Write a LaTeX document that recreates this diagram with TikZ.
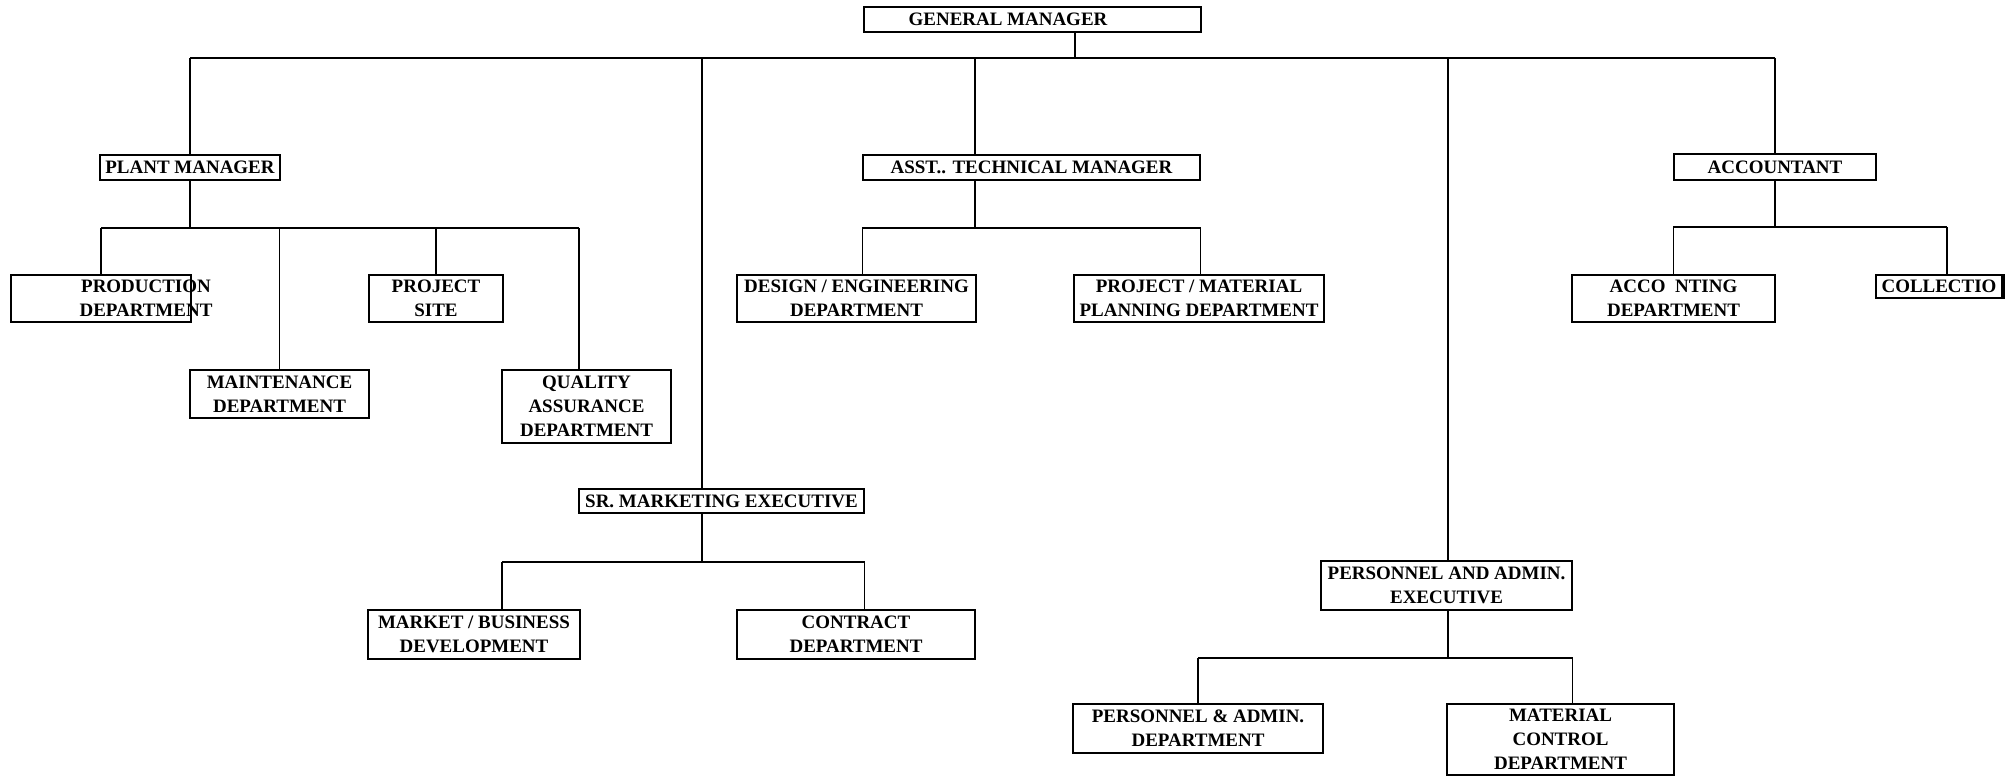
\documentclass[tikz,border=0pt]{standalone}
\usepackage{fontspec}
\setmainfont{Liberation Serif}
\usepackage{tikz}

\begin{document}
\begin{tikzpicture}[x=0.02cm, y=-0.02cm,
  post/.style={draw=black, line width=0.8pt, inner sep=0pt, align=center, font=\bfseries\fontsize{10.8}{13.6}\selectfont},
  tag/.style={inner sep=0pt, align=center, font=\bfseries\fontsize{10.8}{13.6}\selectfont},
  link/.style={black, line width=0.8pt}]

\useasboundingbox (0,0) rectangle (2010,776);

\node[post, minimum width=6.74cm, minimum height=0.5cm, label={[tag, xshift=-0.49cm]center:GENERAL MANAGER}] (gm) at (1032.5,19.5) {};

\node[post, minimum width=3.6cm, minimum height=0.5cm] (plant) at (190,167.5) {PLANT MANAGER};
\node[post, minimum width=6.74cm, minimum height=0.5cm] (tech) at (1031.5,167.5) {ASST.. TECHNICAL MANAGER};
\node[post, minimum width=4.04cm, minimum height=0.52cm] (acct) at (1775,167) {ACCOUNTANT};

\node[post, minimum width=3.6cm, minimum height=0.94cm, label={[tag, xshift=0.9cm]center:PRODUCTION\\DEPARTMENT}] (prod) at (101,298.5) {};
\node[post, minimum width=3.58cm, minimum height=0.96cm] (maint) at (279.5,394) {MAINTENANCE\\DEPARTMENT};
\node[post, minimum width=2.68cm, minimum height=0.94cm] (site) at (436,298.5) {PROJECT\\SITE};
\node[post, minimum width=3.38cm, minimum height=1.46cm] (qa) at (586.5,406.5) {QUALITY\\ASSURANCE\\DEPARTMENT};

\node[post, minimum width=4.78cm, minimum height=0.94cm] (design) at (856.5,298.5) {DESIGN / ENGINEERING\\DEPARTMENT};
\node[post, minimum width=5.0cm, minimum height=0.94cm] (matplan) at (1199,298.5) {PROJECT / MATERIAL\\PLANNING DEPARTMENT};

\node[post, minimum width=4.06cm, minimum height=0.94cm] (accdep) at (1673.5,298.5) {ACCO~~NTING\\DEPARTMENT};
\node[post, minimum width=2.52cm, minimum height=0.46cm] (coll) at (1939,286.5) {COLLECTIO};

\node[post, minimum width=5.7cm, minimum height=0.48cm] (mkt) at (721.5,501) {SR. MARKETING EXECUTIVE};
\node[post, minimum width=4.24cm, minimum height=0.98cm] (bizdev) at (474,634.5) {MARKET / BUSINESS\\DEVELOPMENT};
\node[post, minimum width=4.76cm, minimum height=0.98cm] (contract) at (856,634.5) {CONTRACT\\DEPARTMENT};

\node[post, minimum width=5.02cm, minimum height=0.98cm] (pae) at (1446.5,585.5) {PERSONNEL AND ADMIN.\\EXECUTIVE};
\node[post, minimum width=5.0cm, minimum height=0.98cm] (padep) at (1198,728.5) {PERSONNEL \& ADMIN.\\DEPARTMENT};
\node[post, minimum width=4.54cm, minimum height=1.42cm] (matctl) at (1560.5,739.5) {MATERIAL\\CONTROL\\DEPARTMENT};

\coordinate (gmx) at (1075,58);
\coordinate (mktx) at (702,58);
\coordinate (techx) at (975,58);
\coordinate (pax) at (1448,58);
\draw[link] (gm.south -| gmx) -- (gmx);
\draw[link] (plant.north |- gmx) -- (acct.north |- gmx);
\draw[link] (plant.north |- gmx) -- (plant.north);
\draw[link] (mktx) -- (mktx |- mkt.north);
\draw[link] (techx) -- (techx |- tech.north);
\draw[link] (pax) -- (pax |- pae.north);
\draw[link] (acct.north |- gmx) -- (acct.north);

\coordinate (plantbus) at (0,228);
\coordinate (qax) at (579,228);
\draw[link] (plant.south) -- (plant.south |- plantbus);
\draw[link] (prod.north |- plantbus) -- (qax);
\draw[link] (prod.north |- plantbus) -- (prod.north);
\draw[link] (maint.north |- plantbus) -- (maint.north);
\draw[link] (site.north |- plantbus) -- (site.north);
\draw[link] (qax) -- (qax |- qa.north);

\coordinate (techbus) at (0,228);
\draw[link] (techx |- tech.south) -- (techx |- techbus);
\draw[link] (tech.west |- techbus) -- (tech.east |- techbus);
\draw[link] (tech.west |- techbus) -- (tech.west |- design.north);
\draw[link] (tech.east |- techbus) -- (tech.east |- matplan.north);

\coordinate (mktbus) at (0,562);
\coordinate (bizx) at (502,562);
\draw[link] (mktx |- mkt.south) -- (mktx |- mktbus);
\draw[link] (bizx) -- (mkt.east |- mktbus);
\draw[link] (bizx) -- (bizx |- bizdev.north);
\draw[link] (mkt.east |- mktbus) -- (mkt.east |- contract.north);

\coordinate (pabus) at (0,658);
\draw[link] (pax |- pae.south) -- (pax |- pabus);
\draw[link] (padep.north |- pabus) -- (pae.east |- pabus);
\draw[link] (padep.north |- pabus) -- (padep.north);
\draw[link] (pae.east |- pabus) -- (pae.east |- matctl.north);

\coordinate (accbus) at (0,227);
\coordinate (collx) at (1947,227);
\draw[link] (acct.south) -- (acct.south |- accbus);
\draw[link] (acct.west |- accbus) -- (collx);
\draw[link] (acct.west |- accbus) -- (acct.west |- accdep.north);
\draw[link] (collx) -- (collx |- coll.north);
\draw[line width=2.5pt] (coll.north east) -- (coll.south east);
\end{tikzpicture}
\end{document}
